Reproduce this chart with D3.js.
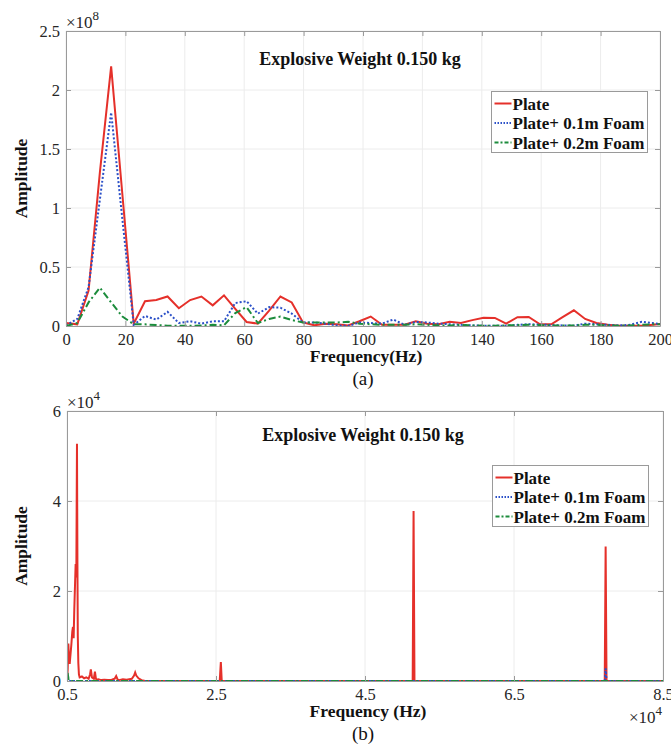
<!DOCTYPE html>
<html>
<head>
<meta charset="utf-8">
<script src="https://cdn.jsdelivr.net/npm/d3@7"></script>
<style>
  body { margin: 0; background: #fff; }
  text { font-family: "Liberation Serif", "Times New Roman", serif; }
</style>
</head>
<body>
<svg id="chart" width="671" height="744"></svg>
<script>
// ---- panel (a): low-frequency spectrum, amplitude in units of 1e8 ----
const freqA = [0, 3.8, 7.6, 11.4, 15.2, 19.0, 22.8, 26.6, 30.4, 34.2, 38.0, 41.8, 45.6, 49.4,
  53.2, 57.0, 60.8, 64.6, 68.4, 72.2, 76.0, 79.8, 83.6, 87.4, 91.2, 95.0, 98.8, 102.6, 106.4,
  110.2, 114.0, 117.8, 121.6, 125.4, 129.2, 133.0, 136.8, 140.6, 144.4, 148.2, 152.0, 155.8,
  159.6, 163.4, 167.2, 171.0, 174.8, 178.6, 182.4, 186.2, 190.0, 193.8, 197.6, 201.4];
const plateA = [0.025, 0.014, 0.30, 1.30, 2.20, 1.11, 0.02, 0.21, 0.22, 0.25, 0.15, 0.22, 0.25, 0.175,
  0.26, 0.145, 0.034, 0.02, 0.13, 0.25, 0.20, 0.03, 0.006, 0.02, 0.015, 0.005, 0.04, 0.08, 0.01,
  0.01, 0.01, 0.04, 0.02, 0.015, 0.035, 0.025, 0.05, 0.07, 0.068, 0.02, 0.075, 0.077,
  0.015, 0.015, 0.075, 0.133, 0.06, 0.025, 0.01, 0.003, 0.002, 0.003, 0.01, 0.02];
const foam1A = [0.005, 0.06, 0.33, 1.07, 1.81, 0.90, 0.01, 0.085, 0.054, 0.12, 0.025, 0.04, 0.02, 0.04,
  0.04, 0.195, 0.21, 0.105, 0.16, 0.155, 0.105, 0.03, 0.03, 0.02, 0.005, 0.0, 0.03, 0.025, 0.02,
  0.055, 0.01, 0.035, 0.03, 0.02, 0.015, 0.01, 0.005, 0.003, 0.002, 0.003, 0.01, 0.015,
  0.012, 0.008, 0.005, 0.003, 0.02, 0.015, 0.01, 0.005, 0.01, 0.035, 0.025, 0.01];
const foam2A = [0.0, 0.025, 0.20, 0.325, 0.20, 0.08, 0.015, 0.014, 0.008, 0.003, 0.002, 0.002, 0.005, 0.01,
  0.006, 0.11, 0.16, 0.025, 0.06, 0.08, 0.05, 0.03, 0.03, 0.03, 0.03, 0.035, 0.02, 0.015, 0.01,
  0.01, 0.01, 0.015, 0.01, 0.005, 0.005, 0.01, 0.005, 0.003, 0.003, 0.005, 0.008, 0.01,
  0.008, 0.005, 0.005, 0.005, 0.01, 0.01, 0.005, 0.003, 0.005, 0.01, 0.015, 0.015];
const xTicksA = [0, 20, 40, 60, 80, 100, 120, 140, 160, 180, 200];
const yTicksA = [0, 0.5, 1, 1.5, 2, 2.5];

// ---- panel (b): full spectrum, frequency in 1e4 Hz, amplitude in 1e4 ----
const freqPlateB = [0.5, 0.509, 0.518, 0.527, 0.536, 0.545, 0.558, 0.571, 0.58, 0.589, 0.598, 0.607,
  0.616, 0.625, 0.634, 0.640, 0.645, 0.652, 0.66, 0.67, 0.70, 0.73, 0.76, 0.79, 0.81, 0.82, 0.835,
  0.86, 0.875, 0.888, 0.90, 0.92, 0.96, 1.0, 1.05, 1.1, 1.14, 1.16, 1.18, 1.2, 1.25, 1.3, 1.37,
  1.40, 1.415, 1.43, 1.46, 1.5, 1.55, 2.0, 2.55, 2.565, 2.577, 2.589, 2.6, 3.5, 4.5, 5.14, 5.152,
  5.164, 6.0, 7.0, 7.718, 7.73, 7.742, 8.0, 8.5];
const plateB = [0, 0.24, 0.83, 0.50, 0.38, 0.55, 0.80, 1.10, 1.20, 0.95, 1.60, 2.10,
  2.60, 2.30, 5.27, 2.60, 1.00, 0.40, 0.15, 0.08, 0.10, 0.06, 0.08, 0.05, 0.15, 0.26, 0.08,
  0.05, 0.21, 0.05, 0.03, 0.04, 0.02, 0.03, 0.02, 0.03, 0.05, 0.11, 0.03, 0.02, 0.04, 0.03, 0.05,
  0.12, 0.19, 0.12, 0.06, 0.02, 0.0, 0.0, 0.0, 0.42, 0.0, 0.0, 0.0, 0.0, 0.0, 0.0, 3.78,
  0.0, 0.0, 0.0, 0.0, 2.99, 0.0, 0.0, 0.0];
const freqFoam1B = [0.5, 0.51, 0.53, 0.6, 2.0, 5.0, 7.718, 7.73, 7.742, 8.5];
const foam1B = [0.08, 0.06, 0.0, 0.0, 0.0, 0.0, 0.0, 0.28, 0.0, 0.0];
const freqFoam2B = [0.5, 0.51, 0.52, 0.53, 0.6, 2.0, 5.0, 8.5];
const foam2B = [0.16, 0.16, 0.05, 0.0, 0.0, 0.0, 0.0, 0.0];
const xTicksB = [0.5, 2.5, 4.5, 6.5, 8.5];
const yTicksB = [0, 2, 4, 6];

const seriesNames = ["Plate", "Plate+ 0.1m Foam", "Plate+ 0.2m Foam"];
const colors = ["#e5302a", "#2b50c8", "#1c8c3c"];
const dashes = [null, "2,2", "7,3,2,3"];

const svg = d3.select("#chart");

function drawPanel(p) {
  const x = d3.scaleLinear().domain(p.xDomain).range([p.left, p.right]);
  const y = d3.scaleLinear().domain(p.yDomain).range([p.bottom, p.top]);
  const g = svg.append("g");

  // grid
  g.selectAll(".gx").data(p.xTicks).enter().append("line")
    .attr("x1", d => x(d)).attr("x2", d => x(d))
    .attr("y1", p.top).attr("y2", p.bottom)
    .attr("stroke", "#ececec").attr("stroke-width", 1);
  g.selectAll(".gy").data(p.yTicks).enter().append("line")
    .attr("x1", p.left).attr("x2", p.right)
    .attr("y1", d => y(d)).attr("y2", d => y(d))
    .attr("stroke", "#ececec").attr("stroke-width", 1);

  // data lines
  const clipId = "clip" + p.id;
  svg.append("clipPath").attr("id", clipId).append("rect")
    .attr("x", p.left).attr("y", p.top - 2)
    .attr("width", p.right - p.left).attr("height", p.bottom - p.top + 2);
  const line = d3.line().x(d => x(d[0])).y(d => y(d[1]));
  p.series.forEach((s, i) => {
    g.append("path")
      .datum(d3.zip(s.x, s.y))
      .attr("clip-path", `url(#${clipId})`)
      .attr("fill", "none")
      .attr("stroke", colors[i])
      .attr("stroke-width", 2)
      .attr("stroke-dasharray", dashes[i])
      .attr("d", line);
  });

  // axes box with inward ticks on all sides
  const axisCol = "#9a9a9a";
  const styleAxis = a => {
    a.select(".domain").attr("stroke", axisCol);
    a.selectAll(".tick line").attr("stroke", axisCol);
    a.selectAll("text").attr("font-size", 16.5).attr("fill", "#262626");
  };
  g.append("g").attr("transform", `translate(0,${p.bottom})`)
    .call(d3.axisBottom(x).tickValues(p.xTicks).tickSize(-5).tickPadding(7).tickSizeOuter(0)
      .tickFormat(p.xFormat))
    .call(styleAxis);
  g.append("g").attr("transform", `translate(0,${p.top})`)
    .call(d3.axisTop(x).tickValues(p.xTicks).tickSize(-5).tickFormat("").tickSizeOuter(0))
    .call(styleAxis);
  g.append("g").attr("transform", `translate(${p.left},0)`)
    .call(d3.axisLeft(y).tickValues(p.yTicks).tickSize(-5).tickPadding(6).tickSizeOuter(0)
      .tickFormat(d3.format("")))
    .call(styleAxis);
  g.append("g").attr("transform", `translate(${p.right},0)`)
    .call(d3.axisRight(y).tickValues(p.yTicks).tickSize(-5).tickFormat("").tickSizeOuter(0))
    .call(styleAxis);

  // exponent label
  const ex = g.append("text").attr("x", p.expX).attr("y", p.expY)
    .attr("font-size", 17).attr("fill", "#262626");
  ex.append("tspan").text("\u00d710");
  ex.append("tspan").attr("dy", -8).attr("font-size", 13).text(p.exp);

  // title
  g.append("text").attr("x", p.titleX).attr("y", p.titleY)
    .attr("text-anchor", "middle").attr("font-weight", "bold").attr("font-size", 18)
    .attr("fill", "#111").text("Explosive Weight 0.150 kg");

  // axis labels
  g.append("text")
    .attr("transform", `translate(27,${(p.top + p.bottom) / 2}) rotate(-90)`)
    .attr("text-anchor", "middle").attr("font-weight", "bold").attr("font-size", 17.5)
    .attr("fill", "#111").text("Amplitude");
  g.append("text").attr("x", p.xLabelX).attr("y", p.bottom + 36)
    .attr("text-anchor", "middle").attr("font-weight", "bold").attr("font-size", 17.5)
    .attr("fill", "#111").text(p.xLabel);
  g.append("text").attr("x", 363).attr("y", p.bottom + 59)
    .attr("text-anchor", "middle").attr("font-size", 19)
    .attr("fill", "#111").text(p.caption);

  // legend
  const lg = g.append("g").attr("transform", `translate(${p.legX},${p.legY})`);
  lg.append("rect").attr("width", 156).attr("height", 61)
    .attr("fill", "#fff").attr("stroke", "#9a9a9a").attr("stroke-width", 1);
  seriesNames.forEach((n, i) => {
    const cy = 12 + i * 19.5;
    lg.append("line").attr("x1", 3).attr("x2", 20).attr("y1", cy).attr("y2", cy)
      .attr("stroke", colors[i]).attr("stroke-width", 2)
      .attr("stroke-dasharray", dashes[i] ? (i === 1 ? "1.5,1.5" : "4,2,2,2") : null);
    lg.append("text").attr("x", 21).attr("y", cy + 6)
      .attr("font-weight", "bold").attr("font-size", 17).attr("fill", "#111").text(n);
  });
}

drawPanel({
  id: "a", left: 66, right: 660, top: 31, bottom: 326,
  xDomain: [0, 200], yDomain: [0, 2.5], xTicks: xTicksA, yTicks: yTicksA,
  xFormat: d3.format(""),
  series: [
    { x: freqA, y: plateA },
    { x: freqA, y: foam1A },
    { x: freqA, y: foam2A }
  ],
  exp: "8", expX: 66, expY: 28,
  titleX: 360, titleY: 65, xLabel: "Frequency(Hz)", xLabelX: 366, caption: "(a)",
  legX: 491.5, legY: 91.5
});

drawPanel({
  id: "b", left: 67, right: 663, top: 411, bottom: 681,
  xDomain: [0.5, 8.5], yDomain: [0, 6], xTicks: xTicksB, yTicks: yTicksB,
  xFormat: d3.format(".1f"),
  series: [
    { x: freqPlateB, y: plateB },
    { x: freqFoam1B, y: foam1B },
    { x: freqFoam2B, y: foam2B }
  ],
  exp: "4", expX: 67, expY: 408,
  titleX: 363, titleY: 441, xLabel: "Frequency (Hz)", xLabelX: 368, caption: "(b)",
  legX: 492.5, legY: 465.5
});

// second exponent for the x axis of panel (b)
const ex2 = svg.append("text").attr("x", 629).attr("y", 723)
  .attr("font-size", 17).attr("fill", "#262626");
ex2.append("tspan").text("\u00d710");
ex2.append("tspan").attr("dy", -8).attr("font-size", 13).text("4");
</script>
</body>
</html>
